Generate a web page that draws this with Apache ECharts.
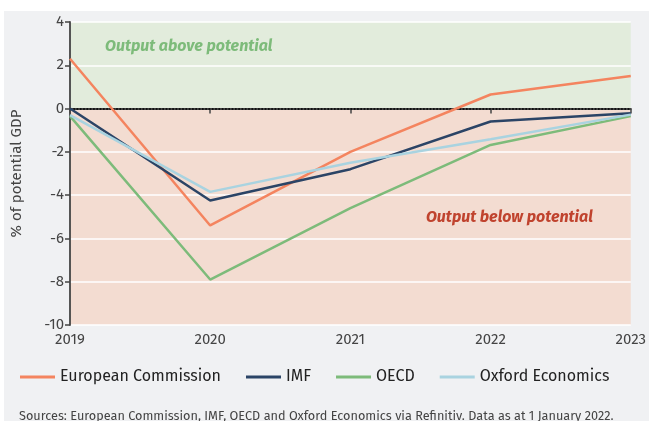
<!DOCTYPE html>
<html><head><meta charset="utf-8">
<script src="https://cdn.jsdelivr.net/npm/echarts@6/dist/echarts.min.js"></script>
<style>html,body{margin:0;padding:0;background:#fff}#c{width:649px;height:421px}</style>
</head><body><div id="c"></div>
<script>
const years = ['2019','2020','2021','2022','2023'];
const europeanCommission = [2.3, -5.4, -2.0, 0.65, 1.5];
const imf = [0.0, -4.25, -2.8, -0.6, -0.22];
const oecd = [-0.35, -7.9, -4.6, -1.68, -0.35];
const oxford = [-0.3, -3.85, -2.5, -1.42, -0.28];
const yTicks = {min: -10, max: 4, interval: 2};
const FONT = '"Fira Sans","Noto Sans",sans-serif';

const chart = echarts.init(document.getElementById('c'));
function line(name, data, color, z) {
  return {name, type: 'line', data, symbol: 'none', z,
    lineStyle: {color, width: 2.5}, itemStyle: {color}};
}
chart.setOption({
  animation: false,
  textStyle: {fontFamily: FONT},
  graphic: [{type: 'rect', left: 4, top: 11, shape: {width: 645, height: 410}, style: {fill: '#f0f1f3'}, z: -10}],
  grid: {left: 70, right: 17, top: 22, bottom: 96},
  xAxis: {type: 'category', data: years, boundaryGap: false, z: 1,
    axisLine: {lineStyle: {color: '#444', width: 1.8}},
    axisTick: {show: true, length: 5, lineStyle: {color: '#444', width: 1.5}},
    axisLabel: {color: '#444', fontSize: 15, margin: 7, fontFamily: FONT},
    splitLine: {show: false}},
  yAxis: {type: 'value', min: yTicks.min, max: yTicks.max, interval: yTicks.interval, z: 1,
    name: '% of potential GDP', nameLocation: 'middle', nameGap: 46,
    nameTextStyle: {color: '#444', fontSize: 15, fontFamily: FONT},
    axisLine: {show: true, lineStyle: {color: '#444', width: 1.8}},
    axisTick: {show: true, length: 5, lineStyle: {color: '#444', width: 1.5}},
    axisLabel: {color: '#444', fontSize: 15, margin: 6, fontFamily: FONT},
    splitLine: {show: true, lineStyle: {color: '#ffffff', width: 1.5}}},
  legend: {left: 15, top: 364, itemWidth: 35, itemHeight: 3, icon: 'rect', itemGap: 25,
    textStyle: {color: '#222', fontSize: 16, fontFamily: FONT},
    data: ['European Commission', 'IMF', 'OECD', 'Oxford Economics']},
  title: {text: 'Sources: European Commission, IMF, OECD and Oxford Economics via Refinitiv. Data as at 1 January 2022.',
    left: 14, top: 405, textStyle: {color: '#444', fontSize: 12.7, fontWeight: 'normal', fontFamily: FONT}},
  series: [
    {name: 'bands', type: 'line', data: [], z: 0, silent: true,
      markArea: {silent: true, z: 0, data: [
        [{yAxis: 0, itemStyle: {color: '#e2ecdc'}, label: {show: true, position: 'insideTopLeft', offset: [30, 12],
          formatter: 'Output above potential', color: '#7dbb7a', fontSize: 16, fontStyle: 'italic', fontWeight: 'bold', fontFamily: FONT}}, {yAxis: 4}],
        [{yAxis: -10, itemStyle: {color: '#f3dcd1'}, label: {show: true, position: 'inside', offset: [159, 1],
          formatter: 'Output below potential', color: '#c0432e', fontSize: 16, fontStyle: 'italic', fontWeight: 'bold', fontFamily: FONT}}, {yAxis: 0}]
      ]}},
    {name: 'zero', type: 'line', data: [], z: 2, silent: true,
      markLine: {silent: true, z: 2, symbol: 'none', label: {show: false},
        lineStyle: {color: '#111', type: [1.6, 1.7], width: 1.8},
        data: [{yAxis: 0}]}},
    line('European Commission', europeanCommission, '#f4845f', 3),
    line('IMF', imf, '#2b4466', 3),
    line('OECD', oecd, '#7dbb7a', 3),
    line('Oxford Economics', oxford, '#a9d3e0', 3)
  ]
});
</script></body></html>
